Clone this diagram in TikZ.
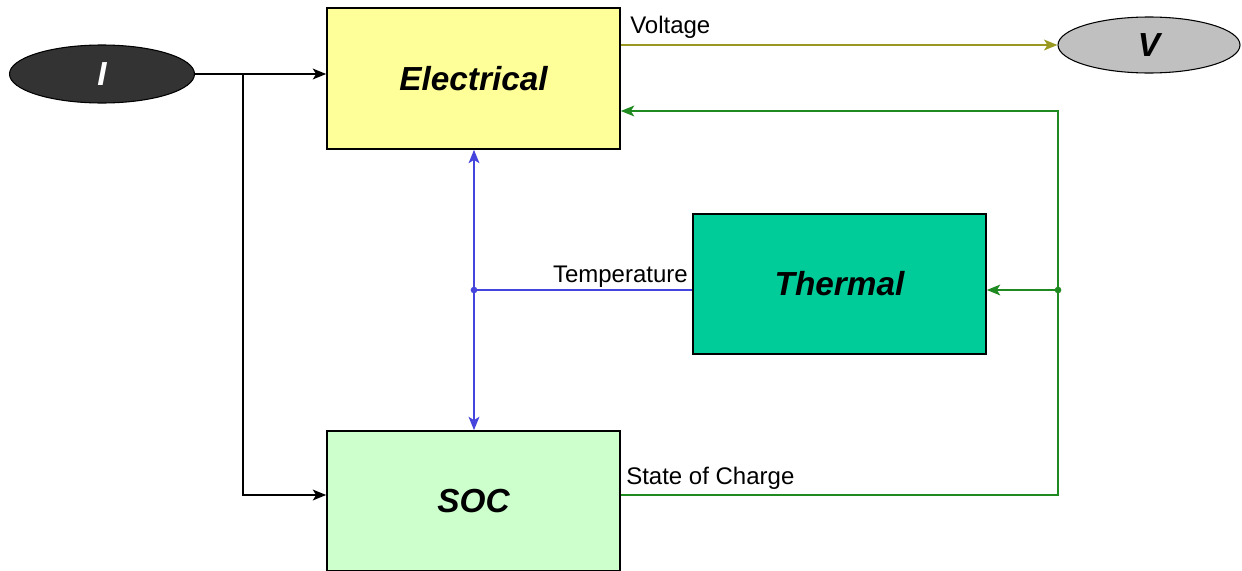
\documentclass[tikz,border=0pt]{standalone}
\usepackage{fontspec}
\setmainfont{Liberation Sans}
\usetikzlibrary{shapes.geometric,arrows.meta}
\definecolor{elecY}{HTML}{FFFF99}
\definecolor{thermG}{HTML}{00CC99}
\definecolor{socG}{HTML}{CCFFCC}
\definecolor{darkI}{HTML}{333333}
\definecolor{grayV}{HTML}{C0C0C0}
\definecolor{olv}{HTML}{999922}
\definecolor{grn}{HTML}{1F8A1F}
\definecolor{blu}{HTML}{4545DD}
\tikzset{
  blockbox/.style={draw=black,line width=1.2pt,rectangle,inner sep=0pt,
    minimum width=219.75pt,minimum height=105.75pt,
    font=\fontsize{25}{30}\selectfont\bfseries\itshape},
  ellnode/.style={draw=black,line width=0.8pt,ellipse,inner sep=0pt,
    font=\fontsize{25}{30}\selectfont\bfseries\itshape},
  conn/.style={line width=1.8pt,-{Stealth[length=10pt,width=8pt,inset=2.5pt]}},
  biconn/.style={line width=1.8pt,{Stealth[length=10pt,width=8pt,inset=2.5pt]}-{Stealth[length=10pt,width=8pt,inset=2.5pt]}},
  lbl/.style={font=\fontsize{18}{22}\selectfont,inner sep=0pt},
  dotmark/.style={circle,inner sep=0pt,minimum size=5pt}
}
\begin{document}
\begin{tikzpicture}[x=0.75pt,y=-0.75pt]
\useasboundingbox (0,0) rectangle (1242,571);
% nodes
\node[blockbox,fill=elecY] (Elec) at (473.5,78.5) {Electrical};
\node[blockbox,fill=thermG,minimum height=105pt] (Therm) at (839.5,284) {Thermal};
\node[blockbox,fill=socG,minimum height=105pt] (SOC) at (473.5,501) {SOC};
\node[ellnode,fill=darkI,text=white,minimum width=138.75pt,minimum height=43.5pt] (I) at (102,74) {I};
\node[ellnode,fill=grayV,minimum width=136.5pt,minimum height=42pt] (V) at (1149,45) {V};
% junction points
\coordinate (bI) at (243,74);
\coordinate (T) at (474,290);
\coordinate (J) at (1058,290);
\coordinate (gtop) at (1058,111);
% black current connectors
\draw[conn,black] (I.east) -- (I.east -| Elec.west);
\draw[conn,black] (bI) |- ([yshift=4.5pt]SOC.west);
% voltage
\draw[conn,olv] (Elec.east |- V.west) -- (V.west);
\node[lbl,anchor=base west] (lv) at (630,33) {Voltage};
% state of charge feedback
\draw[conn,grn] ([yshift=4.5pt]SOC.east) -| (gtop) -- (gtop -| Elec.east);
\draw[conn,grn] (J) -- (J -| Therm.east);
\node[dotmark,fill=grn] (Jd) at (J) {};
\node[lbl,anchor=base west] (ls) at (626,484) {State of Charge};
% temperature
\draw[biconn,blu] (Elec.south -| T) -- (SOC.north -| T);
\draw[line width=1.8pt,blu] (Therm.west |- T) -- (T);
\node[dotmark,fill=blu] (Td) at (T) {};
\node[lbl,anchor=base east] (lt) at (688,282) {Temperature};
\end{tikzpicture}
\end{document}
